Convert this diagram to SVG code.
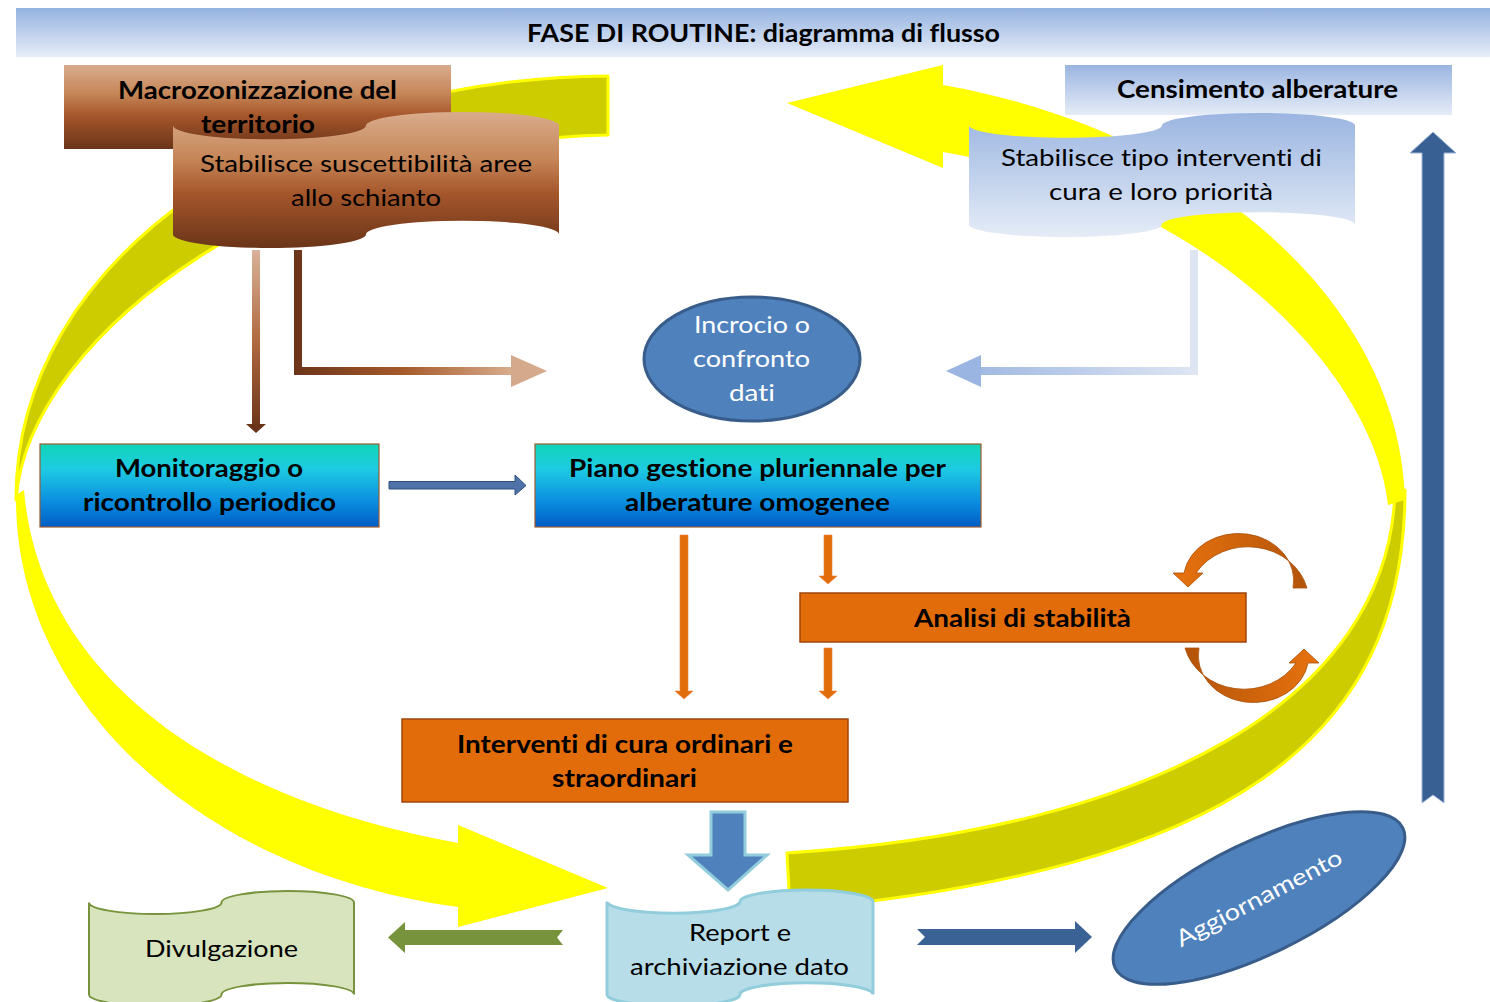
<svg xmlns="http://www.w3.org/2000/svg" width="1490" height="1002" viewBox="0 0 1490 1002">
<defs>
<style>
.b{font-family:Lato,'Liberation Sans',sans-serif;font-weight:bold;font-size:24px;fill:#000;text-anchor:middle;font-variant-ligatures:none}
.r{font-family:Lato,'Liberation Sans',sans-serif;font-weight:normal;font-size:23px;fill:#000;text-anchor:middle;font-variant-ligatures:none}
.w{fill:#fff}
.back{fill:#CCCC00;stroke:#FFFF00;stroke-width:3;stroke-linejoin:round}
.front{fill:#FFFF00}
.orange{fill:#E36C0A;stroke:#E9853A;stroke-width:0.6}
.obox{fill:#E36C0A;stroke:#A0460C;stroke-width:1.5}
.cbox{fill:url(#gCyan);stroke:#9C5A30;stroke-width:1.2}
.ell{fill:#4F81BD;stroke:#385D8A;stroke-width:3}
</style>
<linearGradient id="gTitle" x1="0" y1="0" x2="0" y2="1"><stop offset="0" stop-color="#95B3E0"/><stop offset="1" stop-color="#E6EDF8"/></linearGradient>
<linearGradient id="gBlueLight" x1="0" y1="0" x2="0" y2="1"><stop offset="0" stop-color="#9BB5E1"/><stop offset="1" stop-color="#E5ECF7"/></linearGradient>
<linearGradient id="gBrown" x1="0" y1="0" x2="0" y2="1"><stop offset="0" stop-color="#D9AC8D"/><stop offset="0.35" stop-color="#C58556"/><stop offset="0.6" stop-color="#A5562B"/><stop offset="1" stop-color="#6A3418"/></linearGradient>
<linearGradient id="gCyan" x1="0" y1="0" x2="0" y2="1"><stop offset="0" stop-color="#10D6B6"/><stop offset="0.3" stop-color="#1ECBE2"/><stop offset="0.7" stop-color="#0A8DE0"/><stop offset="1" stop-color="#005CC4"/></linearGradient>
<linearGradient id="gArrA" x1="0" y1="250" x2="0" y2="430" gradientUnits="userSpaceOnUse"><stop offset="0" stop-color="#D9B29A"/><stop offset="0.5" stop-color="#B06A40"/><stop offset="1" stop-color="#6A3418"/></linearGradient>
<linearGradient id="gArrB" x1="294" y1="0" x2="512" y2="0" gradientUnits="userSpaceOnUse"><stop offset="0" stop-color="#6B3419"/><stop offset="0.5" stop-color="#A65A2A"/><stop offset="1" stop-color="#D8AC8D"/></linearGradient>
<linearGradient id="gArrC" x1="1198" y1="0" x2="981" y2="0" gradientUnits="userSpaceOnUse"><stop offset="0" stop-color="#DFE6F3"/><stop offset="1" stop-color="#A2BAE3"/></linearGradient>
<linearGradient id="gCirc" x1="1" y1="0" x2="0" y2="0"><stop offset="0" stop-color="#B35409"/><stop offset="1" stop-color="#E8720E"/></linearGradient>
</defs>

<rect x="0" y="0" width="1490" height="1002" fill="#fff"/>

<g id="title">
<rect x="16" y="8" width="1474" height="49" fill="url(#gTitle)"/>
<text class="b" x="763.5" y="42" font-size="23" textLength="473" lengthAdjust="spacingAndGlyphs">FASE DI ROUTINE: diagramma di flusso</text>
</g>

<g id="connectors">
<!-- big curved yellow arrows -->
<path class="back" d="M 608 76 C 280 78 15 260 16 500 C 28 330 300 140 608 135 Z"/>
<path class="front" d="M 16 495 C 14 700 200 872 458 907 L 458 927 L 608 888 L 458 825 L 458 843 C 220 800 40 680 24 490 Z"/>
<path class="back" d="M 1405 490 C 1405 740 1230 870 790 910 L 787 853 C 1150 830 1390 700 1395 490 Z"/>
<path class="front" d="M 943 85 C 1200 130 1400 300 1405 500 L 1388 505 C 1375 380 1220 200 943 152 L 943 168 L 787 103 L 943 65 Z"/>

<!-- brown arrows -->
<rect x="252" y="250" width="8" height="175" fill="url(#gArrA)"/>
<polygon points="246,424 266,424 256,433" fill="#6A3418"/>
<path d="M 298 250 V 371 H 512" fill="none" stroke="url(#gArrB)" stroke-width="8"/>
<polygon points="511,355 547,371 511,387" fill="#D5A98B"/>

<!-- light blue arrow -->
<path d="M 1194 250 V 371 H 981" fill="none" stroke="url(#gArrC)" stroke-width="8"/>
<polygon points="981,355 946,371 981,387" fill="#9BB5E2"/>

<!-- Monitoraggio -> Piano -->
<polygon points="389,481.5 515,481.5 515,475 526,485.5 515,495 515,489 389,489" fill="#4F72A8" stroke="#2F4F7F" stroke-width="1"/>

<!-- orange arrows -->
<polygon class="orange" points="680,535 688,535 688,691 693,691 684,699 675,691 680,691"/>
<polygon class="orange" points="824,535 832,535 832,576 837,576 828,584 819,576 824,576"/>
<polygon class="orange" points="824,648 832,648 832,691 837,691 828,699 819,691 824,691"/>

<!-- circular arrows -->
<path d="M 1307 588 A 61 55 0 0 0 1196 573 L 1203 573 L 1188 587 L 1173 573 L 1184 573 A 54 46 0 0 1 1293 588 Z" fill="url(#gCirc)" stroke="#A94F08" stroke-width="0.8"/>
<path d="M 1307 588 A 61 55 0 0 0 1196 573 L 1203 573 L 1188 587 L 1173 573 L 1184 573 A 54 46 0 0 1 1293 588 Z" fill="url(#gCirc)" stroke="#A94F08" stroke-width="0.8" transform="rotate(180 1246 618)"/>

<!-- Interventi -> Report -->
<polygon points="711,812 745,812 745,855 767,855 728,890 688,855 711,855" fill="#4F81BD" stroke="#92CDDC" stroke-width="3" stroke-linejoin="miter"/>

<!-- Report -> Divulgazione -->
<polygon points="563,930 405,930 405,922 388,937.5 405,953 405,945 563,945 557,937.5" fill="#77933C"/>

<!-- Report -> Aggiornamento -->
<polygon points="917,929 1075,929 1075,921 1092,937 1075,953 1075,945 917,945 925,937" fill="#3B6294"/>

<!-- Aggiornamento -> Censimento -->
<polygon points="1422,803 1422,153 1410,153 1433,132 1456,153 1444,153 1444,803 1433,795" fill="#386092" stroke="#9DB5D8" stroke-width="1"/>
</g>

<g id="macro">
<rect x="64" y="65" width="387" height="84" fill="url(#gBrown)"/>
</g>

<g id="suscettibilita">
<path d="M 173 125.6 A 96.5 13.6 0 0 0 366 125.6 A 96.5 13.6 0 0 1 559 125.6 L 559 234.4 A 96.5 13.6 0 0 0 366 234.4 A 96.5 13.6 0 0 1 173 234.4 Z" fill="url(#gBrown)"/>
<text class="r" x="366" y="172" textLength="332" lengthAdjust="spacingAndGlyphs">Stabilisce suscettibilità aree</text>
<text class="r" x="366" y="206" textLength="150" lengthAdjust="spacingAndGlyphs">allo schianto</text>
</g>

<g id="macro-label">
<text class="b" x="257.5" y="99" textLength="279" lengthAdjust="spacingAndGlyphs">Macrozonizzazione del</text>
<text class="b" x="258" y="133" textLength="114" lengthAdjust="spacingAndGlyphs">territorio</text>
</g>

<g id="censimento">
<rect x="1065" y="65" width="387" height="50" fill="url(#gBlueLight)"/>
<text class="b" x="1257.5" y="98" textLength="281" lengthAdjust="spacingAndGlyphs">Censimento alberature</text>
</g>

<g id="tipo-interventi">
<path d="M 969 125.4 A 96.5 12.4 0 0 0 1162 125.4 A 96.5 12.4 0 0 1 1355 125.4 L 1355 224.6 A 96.5 12.4 0 0 0 1162 224.6 A 96.5 12.4 0 0 1 969 224.6 Z" fill="url(#gBlueLight)"/>
<text class="r" x="1161.5" y="166" textLength="321" lengthAdjust="spacingAndGlyphs">Stabilisce tipo interventi di</text>
<text class="r" x="1161" y="200" textLength="224" lengthAdjust="spacingAndGlyphs">cura e loro priorità</text>
</g>

<g id="incrocio">
<ellipse class="ell" cx="752" cy="359" rx="108" ry="62"/>
<text class="r w" x="752" y="333" textLength="116" lengthAdjust="spacingAndGlyphs">Incrocio o</text>
<text class="r w" x="751.5" y="367" textLength="117" lengthAdjust="spacingAndGlyphs">confronto</text>
<text class="r w" x="752" y="401" textLength="46" lengthAdjust="spacingAndGlyphs">dati</text>
</g>

<g id="monitoraggio">
<rect class="cbox" x="40" y="444" width="339" height="83"/>
<text class="b" x="209" y="477" textLength="188" lengthAdjust="spacingAndGlyphs">Monitoraggio o</text>
<text class="b" x="209.5" y="511" textLength="253" lengthAdjust="spacingAndGlyphs">ricontrollo periodico</text>
</g>

<g id="piano">
<rect class="cbox" x="535" y="444" width="446" height="83"/>
<text class="b" x="757.5" y="477" textLength="377" lengthAdjust="spacingAndGlyphs">Piano gestione pluriennale per</text>
<text class="b" x="757.5" y="511" textLength="265" lengthAdjust="spacingAndGlyphs">alberature omogenee</text>
</g>

<g id="analisi">
<rect class="obox" x="800" y="593" width="446" height="49"/>
<text class="b" x="1022.5" y="627" textLength="217" lengthAdjust="spacingAndGlyphs">Analisi di stabilità</text>
</g>

<g id="interventi">
<rect class="obox" x="402" y="719" width="446" height="83"/>
<text class="b" x="625" y="753" textLength="336" lengthAdjust="spacingAndGlyphs">Interventi di cura ordinari e</text>
<text class="b" x="624.5" y="787" textLength="145" lengthAdjust="spacingAndGlyphs">straordinari</text>
</g>

<g id="report">
<path d="M 607 901.6 A 66.5 11.6 0 0 0 740 901.6 A 66.5 11.6 0 0 1 873 901.6 L 873 994.4 A 66.5 11.6 0 0 0 740 994.4 A 66.5 11.6 0 0 1 607 994.4 Z" fill="#B7DDE8" stroke="#92CDDC" stroke-width="3"/>
<text class="r" x="740" y="941" textLength="102" lengthAdjust="spacingAndGlyphs">Report e</text>
<text class="r" x="739.5" y="975" textLength="219" lengthAdjust="spacingAndGlyphs">archiviazione dato</text>
</g>

<g id="divulgazione">
<path d="M 89 902.5 A 66.25 11.5 0 0 0 221.5 902.5 A 66.25 11.5 0 0 1 354 902.5 L 354 994.5 A 66.25 11.5 0 0 0 221.5 994.5 A 66.25 11.5 0 0 1 89 994.5 Z" fill="#D7E4BD" stroke="#77933C" stroke-width="2"/>
<text class="r" x="221.5" y="957" textLength="153" lengthAdjust="spacingAndGlyphs">Divulgazione</text>
</g>

<g id="aggiornamento">
<ellipse class="ell" cx="1259" cy="898" rx="160" ry="56" transform="rotate(-26 1259 898)"/>
<text class="r w" x="1259" y="906" textLength="184" lengthAdjust="spacingAndGlyphs" transform="rotate(-27.5 1259 898)">Aggiornamento</text>
</g>
</svg>
